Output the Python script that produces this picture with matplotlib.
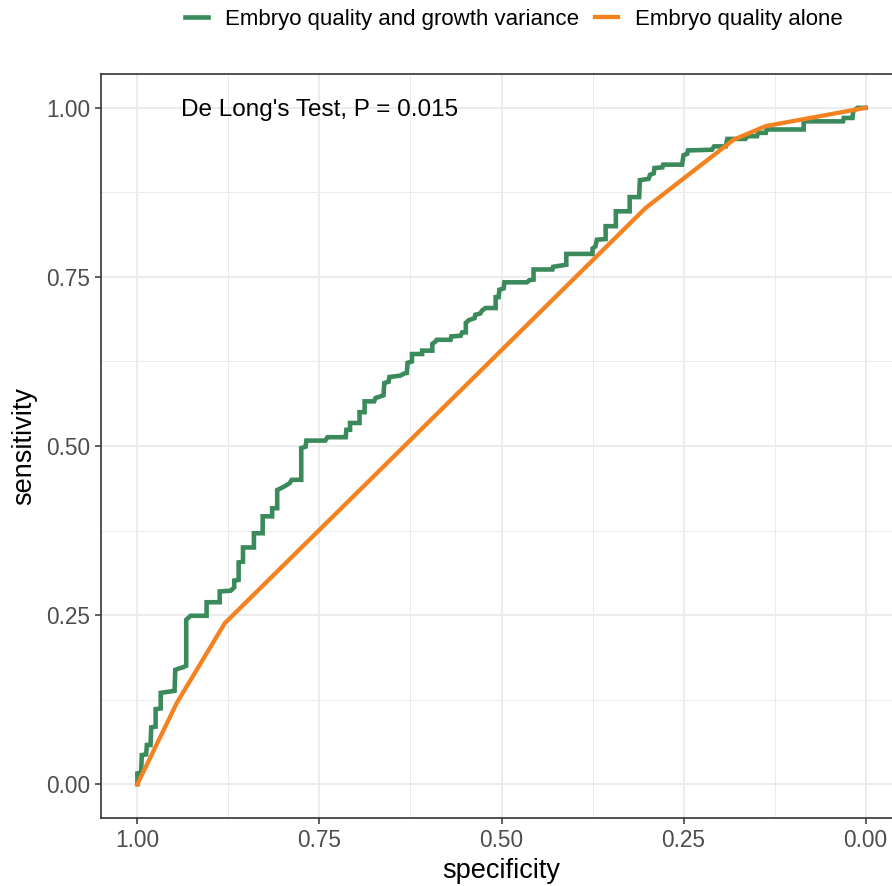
import numpy as np
import matplotlib
matplotlib.use("Agg")
import matplotlib.pyplot as plt
from matplotlib.ticker import MultipleLocator

plt.rcParams['font.family'] = ['Liberation Sans', 'DejaVu Sans']

# ROC: embryo quality + growth variance (step curve)
spec_combo = [1.000, 1.000, 0.995, 0.994, 0.988, 0.987, 0.982, 0.981, 0.975, 0.975,
              0.968, 0.968, 0.962, 0.949, 0.948, 0.943, 0.937, 0.933, 0.933, 0.927,
              0.905, 0.905, 0.887, 0.887, 0.872, 0.867, 0.867, 0.861, 0.861, 0.855,
              0.855, 0.840, 0.840, 0.828, 0.828, 0.815, 0.815, 0.808, 0.808, 0.804,
              0.797, 0.791, 0.788, 0.775, 0.775, 0.769, 0.768, 0.742, 0.739, 0.714,
              0.713, 0.708, 0.708, 0.695, 0.695, 0.688, 0.688, 0.675, 0.673, 0.667,
              0.662, 0.661, 0.655, 0.654, 0.639, 0.634, 0.630, 0.629, 0.623, 0.623,
              0.609, 0.609, 0.595, 0.595, 0.591, 0.589, 0.570, 0.569, 0.556, 0.554,
              0.549, 0.549, 0.545, 0.537, 0.536, 0.529, 0.527, 0.522, 0.508, 0.508,
              0.504, 0.503, 0.497, 0.496, 0.465, 0.462, 0.456, 0.456, 0.430, 0.429,
              0.411, 0.411, 0.375, 0.375, 0.371, 0.369, 0.357, 0.357, 0.343, 0.343,
              0.324, 0.324, 0.311, 0.310, 0.298, 0.296, 0.291, 0.290, 0.279, 0.278,
              0.252, 0.250, 0.245, 0.244, 0.211, 0.208, 0.192, 0.190, 0.165, 0.162,
              0.149, 0.148, 0.137, 0.136, 0.085, 0.085, 0.031, 0.030, 0.018, 0.017,
              0.011, 0.000]
sens_combo = [0.000, 0.016, 0.017, 0.043, 0.044, 0.058, 0.058, 0.084, 0.085, 0.111,
              0.112, 0.135, 0.136, 0.138, 0.169, 0.171, 0.173, 0.175, 0.243, 0.249,
              0.249, 0.269, 0.269, 0.285, 0.286, 0.291, 0.301, 0.302, 0.328, 0.329,
              0.350, 0.350, 0.371, 0.371, 0.396, 0.396, 0.408, 0.408, 0.435, 0.437,
              0.441, 0.445, 0.450, 0.450, 0.497, 0.499, 0.508, 0.508, 0.513, 0.513,
              0.524, 0.524, 0.534, 0.534, 0.550, 0.550, 0.566, 0.566, 0.571, 0.573,
              0.575, 0.593, 0.595, 0.602, 0.604, 0.607, 0.608, 0.623, 0.625, 0.636,
              0.636, 0.641, 0.641, 0.651, 0.654, 0.657, 0.657, 0.662, 0.663, 0.668,
              0.668, 0.682, 0.686, 0.689, 0.694, 0.696, 0.700, 0.704, 0.704, 0.720,
              0.720, 0.731, 0.733, 0.742, 0.742, 0.745, 0.746, 0.761, 0.761, 0.765,
              0.768, 0.784, 0.784, 0.792, 0.795, 0.805, 0.806, 0.825, 0.825, 0.847,
              0.847, 0.868, 0.868, 0.893, 0.895, 0.901, 0.903, 0.911, 0.912, 0.916,
              0.916, 0.930, 0.932, 0.937, 0.938, 0.943, 0.943, 0.954, 0.954, 0.958,
              0.958, 0.963, 0.963, 0.968, 0.968, 0.980, 0.980, 0.985, 0.985, 0.995,
              1.000, 1.000]

# ROC: embryo quality alone
spec_alone = [1.000, 0.946, 0.880, 0.302, 0.181, 0.137, 0.000]
sens_alone = [0.000, 0.120, 0.238, 0.852, 0.953, 0.973, 1.000]

labels = ["Embryo quality and growth variance", "Embryo quality alone"]
colors = ["#3A8A5C", "#F58220"]
ticks = [1.00, 0.75, 0.50, 0.25, 0.00]
annot = "De Long's Test, P = 0.015"

W, H = 892, 886
fig = plt.figure(figsize=(W / 100, H / 100), dpi=100)
ax = fig.add_axes([101 / W, 1 - 818 / H, (902 - 101) / W, (818 - 74) / H])

ax.plot(spec_combo, sens_combo, color=colors[0], lw=3.3, label=labels[0],
        solid_joinstyle='miter', zorder=3)
ax.plot(spec_alone, sens_alone, color=colors[1], lw=3.1, label=labels[1], zorder=4)

ax.text(0.75, 0.997, annot, ha='center', va='center', fontsize=17.5, color='black')

ax.set_xlim(1.05, -0.05)
ax.set_ylim(-0.05, 1.05)
ax.set_xticks(ticks)
ax.set_yticks(ticks)
ax.set_xticklabels([f"{t:.2f}" for t in ticks])
ax.set_yticklabels([f"{t:.2f}" for t in ticks])
ax.xaxis.set_minor_locator(MultipleLocator(0.125))
ax.yaxis.set_minor_locator(MultipleLocator(0.125))
ax.grid(which='major', color='#EBEBEB', lw=1.3)
ax.grid(which='minor', color='#EBEBEB', lw=0.7)
ax.set_axisbelow(True)
ax.tick_params(which='major', length=4, width=1.1, color='#333333',
               labelcolor='#4D4D4D', labelsize=16.3, pad=4)
ax.tick_params(which='minor', length=0)
for s in ax.spines.values():
    s.set_color('#333333')
    s.set_linewidth(1.2)

ax.set_xlabel("specificity", fontsize=19.5, labelpad=4)
ax.set_ylabel("sensitivity", fontsize=19.5, labelpad=6)

fig.legend(loc='center', bbox_to_anchor=(0.576, 1 - 19 / H), ncol=2, frameon=False,
           fontsize=16, handlelength=1.05, handletextpad=0.75, columnspacing=0.7)

fig.savefig("out.png", dpi=100)
